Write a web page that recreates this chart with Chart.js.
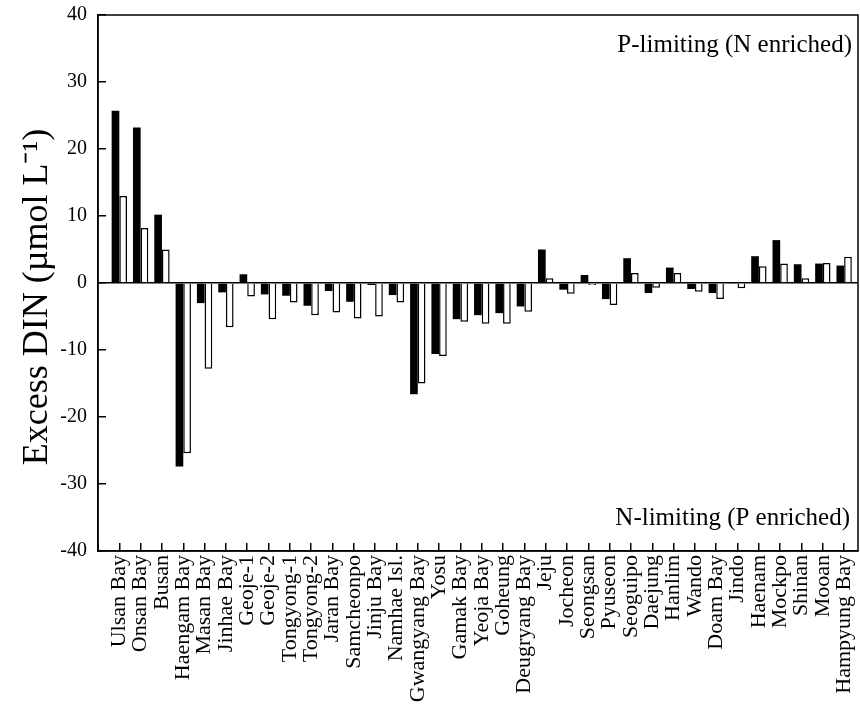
<!DOCTYPE html>
<html>
<head>
<meta charset="utf-8">
<script src="https://cdn.jsdelivr.net/npm/chart.js@4/dist/chart.umd.min.js"></script>
<style>
  html, body { margin: 0; padding: 0; background: #fff; }
  canvas { display: block; }
</style>
</head>
<body>
<canvas id="dinChart" width="860" height="705"></canvas>
<script>
const sites = ['Ulsan Bay', 'Onsan Bay', 'Busan', 'Haengam Bay', 'Masan Bay', 'Jinhae Bay', 'Geoje-1', 'Geoje-2',
  'Tongyong-1', 'Tongyong-2', 'Jaran Bay', 'Samcheonpo', 'Jinju Bay', 'Namhae Isl.', 'Gwangyang Bay', 'Yosu',
  'Gamak Bay', 'Yeoja Bay', 'Goheung', 'Deugryang Bay', 'Jeju', 'Jocheon', 'Seongsan', 'Pyuseon', 'Seoguipo',
  'Daejung', 'Hanlim', 'Wando', 'Doam Bay', 'Jindo', 'Haenam', 'Mockpo', 'Shinan', 'Mooan', 'Hampyung Bay'];

// black bars
const blackVals = [25.7, 23.2, 10.2, -27.4, -3.0, -1.4, 1.3, -1.7, -1.9, -3.4, -1.2, -2.8, -0.3, -1.8, -16.6, -10.6,
  -5.4, -4.8, -4.5, -3.5, 5.0, -1.0, 1.2, -2.4, 3.7, -1.5, 2.3, -0.9, -1.5, -0.1, 4.0, 6.4, 2.8, 2.9, 2.6];
// white bars
const whiteVals = [13.0, 8.2, 5.0, -25.4, -12.8, -6.6, -2.0, -5.4, -2.9, -4.8, -4.4, -5.3, -5.0, -2.9, -15.0, -10.9,
  -5.8, -6.1, -6.1, -4.3, 0.7, -1.6, -0.3, -3.3, 1.5, -0.7, 1.5, -1.3, -2.4, -0.8, 2.5, 2.9, 0.7, 3.0, 3.9];

const yTicks = [-40, -30, -20, -10, 0, 10, 20, 30, 40];

const serif = 'Liberation Serif, Times New Roman, serif';

const framePlugin = {
  id: 'frame',
  afterDraw(chart) {
    const { ctx, chartArea: a } = chart;
    ctx.save();
    ctx.strokeStyle = '#000';
    ctx.lineWidth = 1.5;
    ctx.strokeRect(a.left, a.top, a.right - a.left, a.bottom - a.top);
    ctx.fillStyle = '#000';
    ctx.font = '25px ' + serif;
    ctx.textAlign = 'right';
    ctx.textBaseline = 'alphabetic';
    ctx.fillText('P-limiting (N enriched)', a.right - 6, a.top + 37);
    ctx.fillText('N-limiting (P enriched)', a.right - 8, a.bottom - 26);
    // y axis title, a little below the middle like the original
    ctx.translate(38, (a.top + a.bottom) / 2 + 14);
    ctx.rotate(-Math.PI / 2);
    ctx.font = '36px ' + serif;
    ctx.textAlign = 'center';
    ctx.textBaseline = 'middle';
    ctx.fillText('Excess DIN (µmol L⁻¹)', 0, 0);
    ctx.restore();
  }
};

new Chart(document.getElementById('dinChart'), {
  type: 'bar',
  data: {
    datasets: [
      { label: 'Black', data: blackVals.map((v, i) => ({ x: i, y: v })), backgroundColor: '#000', borderWidth: 0,
        categoryPercentage: 0.72, barPercentage: 1 },
      { label: 'White', data: whiteVals.map((v, i) => ({ x: i, y: v })), backgroundColor: '#fff', borderColor: '#000',
        borderWidth: 1.5, categoryPercentage: 0.72, barPercentage: 1 }
    ]
  },
  options: {
    responsive: false,
    animation: false,
    layout: { padding: { top: 15, right: 2, left: 0, bottom: 0 } },
    scales: {
      x: {
        type: 'linear',
        min: -1,
        max: 34.65,
        offset: false,
        afterFit(scale) {
          scale.height = 154;
          scale.paddingLeft = 0;
          scale.paddingRight = 0;
        },
        border: { color: '#000', width: 1.5 },
        grid: { offset: false, drawOnChartArea: false, color: '#000', tickColor: '#000', tickLength: -8, lineWidth: 1.5 },
        ticks: {
          stepSize: 1,
          includeBounds: false,
          autoSkip: false,
          minRotation: 90,
          maxRotation: 90,
          padding: 12,
          color: '#000',
          font: { family: serif, size: 22 },
          callback: (v) => sites[v] ?? ''
        }
      },
      y: {
        min: -40,
        max: 40,
        afterFit(scale) {
          scale.width = 98;
          scale.paddingTop = 0;
          scale.paddingBottom = 0;
        },
        afterBuildTicks(scale) { scale.ticks = yTicks.map(v => ({ value: v })); },
        border: { color: '#000', width: 1.5 },
        grid: {
          color: (c) => c.tick && c.tick.value === 0 ? '#000' : 'rgba(0,0,0,0)',
          tickColor: '#000',
          tickLength: -8,
          lineWidth: 1.5
        },
        ticks: { padding: 19, color: '#000', font: { family: serif, size: 20 } }
      }
    },
    plugins: {
      legend: { display: false },
      tooltip: { enabled: false }
    }
  },
  plugins: [framePlugin]
});
</script>
</body>
</html>
